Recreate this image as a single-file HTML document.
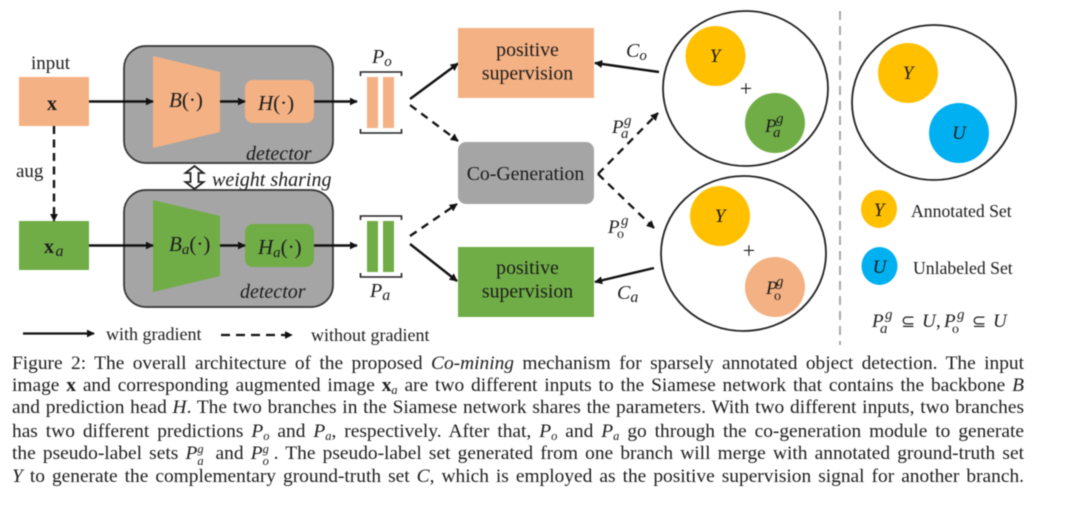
<!DOCTYPE html>
<html><head><meta charset="utf-8">
<style>
html,body{margin:0;padding:0;background:#fff;}
#p{position:relative;width:1080px;height:512px;overflow:hidden;background:#fff;filter:blur(.4px);font-family:"Liberation Serif",serif;color:#1c1c1c;}
svg{position:absolute;left:0;top:0;}
svg text{font-family:"Liberation Serif",serif;fill:#1c1c1c;}
.l{position:absolute;left:12px;width:1012px;height:22px;line-height:22px;font-size:19.4px;text-align:justify;text-align-last:justify;white-space:nowrap;}
.l i{font-style:italic}
.s{font-size:12.5px;font-style:italic;vertical-align:-3px;line-height:0}
.ss{display:inline-block;position:relative;width:11px;height:10px;vertical-align:baseline}
.ss b{position:absolute;left:0;font-size:12.5px;font-style:italic;font-weight:normal;line-height:12px}
</style></head><body><div id="p">
<svg width="1080" height="350" viewBox="0 0 1080 350">
<defs>
<marker id="a" viewBox="0 0 10 10" refX="9" refY="5" markerWidth="8" markerHeight="8" markerUnits="userSpaceOnUse" orient="auto"><path d="M0 0L10 5L0 10Z" fill="#111"/></marker>
</defs>
<!-- left boxes -->
<rect x="19" y="77" width="70" height="49" fill="#F4B183"/>
<rect x="19" y="221" width="70" height="49" fill="#70AD47"/>
<text x="50.500" y="69" font-size="19" text-anchor="middle">input</text>
<text x="52" y="110" font-size="20" font-weight="bold" text-anchor="middle">x</text>
<text x="44" y="253" font-size="20" font-weight="bold">x</text><text x="55.500" y="256" font-size="16" font-style="italic">a</text>
<text x="16" y="177" font-size="19">aug</text>
<line x1="54" y1="126" x2="54" y2="221" stroke="#111" stroke-width="2.400" stroke-dasharray="8 5.500" marker-end="url(#a)"/>
<!-- detectors -->
<rect x="124" y="46" width="209" height="117" rx="22" fill="#A5A5A5" stroke="#333" stroke-width="1.700"/>
<rect x="124" y="190" width="209" height="117" rx="22" fill="#A5A5A5" stroke="#333" stroke-width="1.700"/>
<polygon points="153,56 220,72 220,132 153,148" fill="#F4B183"/>
<polygon points="153,200 220,216 220,276 153,292" fill="#70AD47"/>
<rect x="245" y="80" width="69" height="43" rx="8" fill="#F4B183"/>
<rect x="245" y="224" width="69" height="43" rx="8" fill="#70AD47"/>
<text x="169" y="107" font-size="21"><tspan font-style="italic">B</tspan>(·)</text>
<text x="258" y="110" font-size="21"><tspan font-style="italic">H</tspan>(·)</text>
<text x="169" y="251" font-size="21"><tspan font-style="italic">B</tspan><tspan font-style="italic" font-size="15" dy="3">a</tspan><tspan dy="-3">(·)</tspan></text>
<text x="258" y="254" font-size="21"><tspan font-style="italic">H</tspan><tspan font-style="italic" font-size="15" dy="3">a</tspan><tspan dy="-3">(·)</tspan></text>
<text x="246" y="160" font-size="20" font-style="italic">detector</text>
<text x="240" y="298" font-size="20" font-style="italic">detector</text>
<text x="212" y="186" font-size="20" font-style="italic">weight sharing</text>
<path d="M194.500 166L203.500 173L198.500 173L198.500 182L203.500 182L194.500 189L185.500 182L190.500 182L190.500 173L185.500 173Z" fill="#fff" stroke="#222" stroke-width="1.800"/>
<!-- horizontal arrows -->
<g stroke="#111" stroke-width="2.400" fill="none">
<line x1="89" y1="101.500" x2="153" y2="101.500" marker-end="url(#a)"/>
<line x1="220" y1="101.500" x2="245" y2="101.500" marker-end="url(#a)"/>
<line x1="314" y1="101.500" x2="357" y2="101.500" marker-end="url(#a)"/>
<line x1="89" y1="245.500" x2="153" y2="245.500" marker-end="url(#a)"/>
<line x1="220" y1="245.500" x2="245" y2="245.500" marker-end="url(#a)"/>
<line x1="314" y1="245.500" x2="357" y2="245.500" marker-end="url(#a)"/>
</g>
<!-- bars -->
<rect x="367" y="77" width="11" height="51" fill="#F4B183"/><rect x="383" y="77" width="11" height="51" fill="#F4B183"/>
<rect x="367" y="221" width="11" height="51" fill="#70AD47"/><rect x="383" y="221" width="11" height="51" fill="#70AD47"/>
<g stroke="#222" stroke-width="1.600" fill="none">
<path d="M360.500 76V72H401.500V76"/><path d="M360.500 129V133H401.500V129"/>
<path d="M360.500 220V216H401.500V220"/><path d="M360.500 273V277H401.500V273"/>
</g>
<text x="372" y="63" font-size="20" font-style="italic">P<tspan font-size="15" dy="3">o</tspan></text>
<text x="370" y="297" font-size="20" font-style="italic">P<tspan font-size="16" dy="3">a</tspan></text>
<!-- diagonal arrows -->
<g stroke="#111" fill="none">
<line x1="410" y1="99" x2="458" y2="63.500" stroke-width="2.400" marker-end="url(#a)"/>
<line x1="410" y1="244" x2="457" y2="281" stroke-width="2.400" marker-end="url(#a)"/>
<line x1="410" y1="105" x2="458" y2="141" stroke-width="2.300" stroke-dasharray="8 6" marker-end="url(#a)"/>
<line x1="410" y1="236" x2="457" y2="204" stroke-width="2.300" stroke-dasharray="8 6" marker-end="url(#a)"/>
<line x1="659" y1="72" x2="595" y2="63" stroke-width="2.400" marker-end="url(#a)"/>
<line x1="654" y1="268" x2="595" y2="282" stroke-width="2.400" marker-end="url(#a)"/>
<line x1="598" y1="174" x2="658" y2="113" stroke-width="2.300" stroke-dasharray="8 6" marker-end="url(#a)"/>
<line x1="598" y1="174" x2="654" y2="228" stroke-width="2.300" stroke-dasharray="8 6" marker-end="url(#a)"/>
</g>
<!-- center boxes -->
<rect x="458" y="28" width="136" height="70" fill="#F4B183"/>
<rect x="458" y="142" width="136" height="62" rx="8" fill="#A5A5A5"/>
<rect x="458" y="247" width="136" height="70" fill="#70AD47"/>
<g font-size="19.800" text-anchor="middle">
<text x="527.500" y="56">positive</text><text x="527.500" y="79.500">supervision</text>
<text x="525.500" y="180">Co-Generation</text>
<text x="527.500" y="274">positive</text><text x="527.500" y="297.500">supervision</text>
</g>
<!-- circles -->
<ellipse cx="745.500" cy="88.500" rx="82.500" ry="77.500" fill="#fff" stroke="#222" stroke-width="1.800"/>
<ellipse cx="743.500" cy="253.500" rx="82.500" ry="77.500" fill="#fff" stroke="#222" stroke-width="1.800"/>
<ellipse cx="934" cy="102.500" rx="82" ry="77.500" fill="#fff" stroke="#222" stroke-width="1.800"/>
<circle cx="715.500" cy="56" r="30" fill="#FFC000"/>
<circle cx="775" cy="123" r="30" fill="#70AD47"/>
<circle cx="720" cy="216" r="30" fill="#FFC000"/>
<circle cx="775" cy="287" r="30" fill="#F4B183"/>
<circle cx="908" cy="73" r="30" fill="#FFC000"/>
<circle cx="959" cy="133" r="30" fill="#00B0F0"/>
<ellipse cx="879" cy="209" rx="18" ry="19" fill="#FFC000"/>
<ellipse cx="879.500" cy="266" rx="18" ry="19" fill="#00B0F0"/>
<g font-style="italic" font-size="19" text-anchor="middle">
<text x="715" y="62">Y</text><text x="720" y="222">Y</text><text x="908" y="79">Y</text><text x="959" y="139">U</text><text x="879" y="216">Y</text><text x="879.500" y="273">U</text>
</g>
<text x="746" y="96" font-size="22" text-anchor="middle">+</text>
<text x="749" y="258" font-size="22" text-anchor="middle">+</text>
<!-- math labels -->
<g font-style="italic" font-size="19">
<text x="765" y="132">P</text><text x="776" y="123" font-size="15">g</text><text x="773" y="137" font-size="15">a</text>
<text x="766" y="294">P</text><text x="776" y="286" font-size="15">g</text><text x="774" y="300" font-size="14" font-style="normal">o</text>
<text x="612" y="133">P</text><text x="624" y="125" font-size="15">g</text><text x="621" y="138" font-size="15">a</text>
<text x="608" y="233">P</text><text x="621" y="225" font-size="15">g</text><text x="617" y="238" font-size="14" font-style="normal">o</text>
<text x="626" y="57" font-size="20">C<tspan font-size="15" dy="3">o</tspan></text>
<text x="617" y="299" font-size="20">C<tspan font-size="16" dy="3">a</tspan></text>
<text x="872" y="327">P</text><text x="885" y="319" font-size="15">g</text><text x="880" y="333" font-size="15">a</text>
<text x="922" y="327">U</text><text x="936" y="327" font-style="normal">,</text>
<text x="944" y="327">P</text><text x="957" y="319" font-size="15">g</text><text x="952" y="333" font-size="14" font-style="normal">o</text>
<text x="993" y="327">U</text>
</g>
<text x="901" y="327" font-size="17" style="font-family:'DejaVu Sans',sans-serif">⊆</text>
<text x="972" y="327" font-size="17" style="font-family:'DejaVu Sans',sans-serif">⊆</text>
<text x="911" y="217" font-size="17.700">Annotated Set</text>
<text x="913" y="274" font-size="17.700">Unlabeled Set</text>
<!-- divider -->
<line x1="840" y1="11" x2="840" y2="345" stroke="#A9A9A9" stroke-width="2" stroke-dasharray="9 6"/>
<!-- legend -->
<line x1="23" y1="333.500" x2="94" y2="333.500" stroke="#111" stroke-width="2.300" marker-end="url(#a)"/>
<line x1="221" y1="335" x2="292" y2="335" stroke="#111" stroke-width="2.300" stroke-dasharray="9 6" marker-end="url(#a)"/>
<text x="106" y="340" font-size="18">with gradient</text>
<text x="311" y="341" font-size="18">without gradient</text>
</svg>
<div class="l" style="top:353px">Figure 2: The overall architecture of the proposed <i>Co-mining</i> mechanism for sparsely annotated object detection. The input</div>
<div class="l" style="top:375px">image <b>x</b> and corresponding augmented image <b>x</b><span class="s">a</span> are two different inputs to the Siamese network that contains the backbone <i>B</i></div>
<div class="l" style="top:397px">and prediction head <i>H</i>. The two branches in the Siamese network shares the parameters. With two different inputs, two branches</div>
<div class="l" style="top:421px">has two different predictions <i>P</i><span class="s">o</span> and <i>P</i><span class="s">a</span>, respectively. After that, <i>P</i><span class="s">o</span> and <i>P</i><span class="s">a</span> go through the co-generation module to generate</div>
<div class="l" style="top:443px">the pseudo-label sets <i>P</i><span class="ss"><b style="top:-6px">g</b><b style="top:6px">a</b></span> and <i>P</i><span class="ss"><b style="top:-6px">g</b><b style="top:6px">o</b></span>. The pseudo-label set generated from one branch will merge with annotated ground-truth set</div>
<div class="l" style="top:466px"><i>Y</i> to generate the complementary ground-truth set <i>C</i>, which is employed as the positive supervision signal for another branch.</div>
</div></body></html>
